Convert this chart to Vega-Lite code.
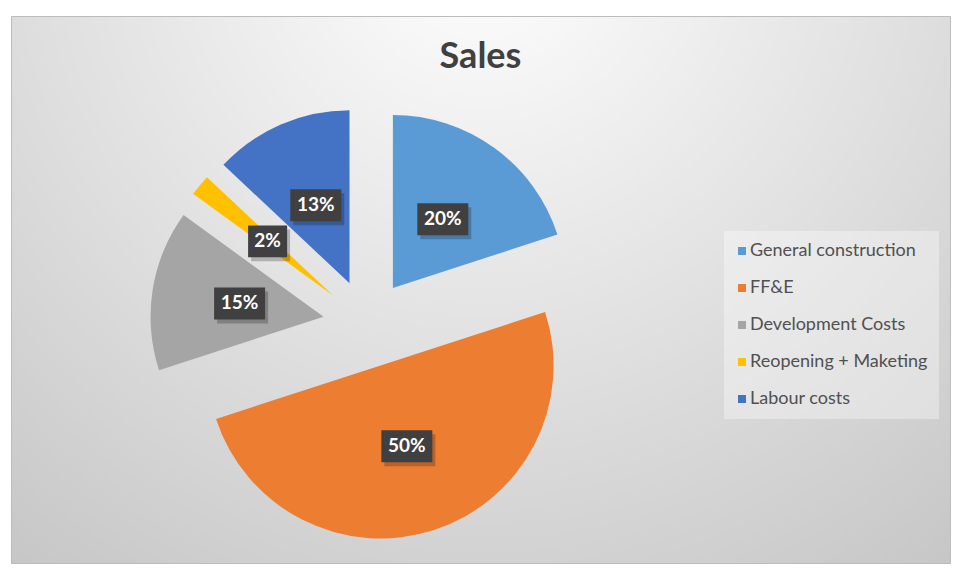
{
  "$schema": "https://vega.github.io/schema/vega-lite/v6.json",
  "width": 939,
  "height": 547,
  "autosize": {"type": "none"},
  "padding": {"left": 11, "top": 16, "right": 17, "bottom": 12},
  "background": "#ffffff",
  "title": {
    "text": "Sales",
    "font": "Lato",
    "fontSize": 36,
    "fontWeight": "bold",
    "color": "#404040",
    "anchor": "middle",
    "offset": -60
  },
  "data": {
    "values": [
      {"idx": 1, "category": "General construction", "value": 20},
      {"idx": 2, "category": "FF&E", "value": 50},
      {"idx": 3, "category": "Development Costs", "value": 15},
      {"idx": 4, "category": "Reopening + Maketing", "value": 2},
      {"idx": 5, "category": "Labour costs", "value": 13}
    ]
  },
  "transform": [
    {"window": [{"op": "sum", "field": "value", "as": "cum"}], "sort": [{"field": "idx"}], "frame": [null, 0]},
    {"joinaggregate": [{"op": "sum", "field": "value", "as": "total"}]},
    {"calculate": "datum.cum - datum.value", "as": "start"},
    {"calculate": "(datum.start + datum.value / 2) / datum.total * 2 * PI", "as": "mid"},
    {"calculate": "44 * sin(datum.mid)", "as": "ex"},
    {"calculate": "-44 * cos(datum.mid)", "as": "ey"},
    {"calculate": "129 * sin(datum.mid)", "as": "lx"},
    {"calculate": "-129 * cos(datum.mid)", "as": "ly"},
    {"calculate": "datum.value + '%'", "as": "label"}
  ],
  "layer": [
    {
      "mark": {"type": "arc", "outerRadius": 173},
      "encoding": {
        "x": {"field": "ex", "type": "quantitative", "scale": {"domain": [-356, 583], "nice": false, "zero": false}, "axis": null},
        "y": {"field": "ey", "type": "quantitative", "scale": {"domain": [-307.6, 239.4], "nice": false, "zero": false, "reverse": true}, "axis": null},
        "theta": {"field": "start", "type": "quantitative", "stack": null, "scale": {"domain": [0, 100], "range": [0, 6.283185307]}},
        "theta2": {"field": "cum"},
        "color": {
          "field": "category",
          "type": "nominal",
          "sort": ["General construction", "FF&E", "Development Costs", "Reopening + Maketing", "Labour costs"],
          "scale": {
            "domain": ["General construction", "FF&E", "Development Costs", "Reopening + Maketing", "Labour costs"],
            "range": ["#5B9BD5", "#ED7D31", "#A5A5A5", "#FFC000", "#4472C4"]
          },
          "legend": {
            "title": null,
            "orient": "none",
            "legendX": 713,
            "legendY": 215,
            "symbolType": "square",
            "symbolSize": 64,
            "symbolStrokeWidth": 0,
            "symbolOffset": -2,
            "labelFont": "Lato",
            "labelFontSize": 18,
            "labelColor": "#505050",
            "labelLimit": 300,
            "labelOffset": -1,
            "rowPadding": 19,
            "padding": 11,
            "fillColor": "rgba(255,255,255,0.35)"
          }
        },
        "order": {"field": "idx"}
      }
    },
    {
      "mark": {"type": "point", "filled": true, "color": "#000000", "opacity": 0.22, "xOffset": 3, "yOffset": 4, "strokeWidth": 0},
      "encoding": {
        "x": {"field": "lx", "type": "quantitative"},
        "y": {"field": "ly", "type": "quantitative"},
        "shape": {"condition": {"test": "datum.value < 10", "value": "M-1,-0.82H1V0.82H-1Z"}, "value": "M-1,-0.627H1V0.627H-1Z"},
        "size": {"condition": {"test": "datum.value < 10", "value": 1521}, "value": 2601}
      }
    },
    {
      "mark": {"type": "point", "filled": true, "color": "#404040", "opacity": 1, "strokeWidth": 0},
      "encoding": {
        "x": {"field": "lx", "type": "quantitative"},
        "y": {"field": "ly", "type": "quantitative"},
        "shape": {"condition": {"test": "datum.value < 10", "value": "M-1,-0.82H1V0.82H-1Z"}, "value": "M-1,-0.627H1V0.627H-1Z"},
        "size": {"condition": {"test": "datum.value < 10", "value": 1521}, "value": 2601}
      }
    },
    {
      "mark": {"type": "text", "font": "Lato", "fontSize": 19, "fontWeight": "bold", "color": "#ffffff", "align": "center", "baseline": "middle"},
      "encoding": {
        "x": {"field": "lx", "type": "quantitative"},
        "y": {"field": "ly", "type": "quantitative"},
        "text": {"field": "label"}
      }
    }
  ],
  "config": {
    "view": {
      "fill": {
        "gradient": "radial",
        "x1": 0.5, "y1": 0.12, "r1": 0,
        "x2": 0.5, "y2": 0.12, "r2": 0.9,
        "stops": [
          {"offset": 0, "color": "#ffffff"},
          {"offset": 1, "color": "#c2c2c2"}
        ]
      },
      "stroke": "#bcbcbc",
      "strokeWidth": 1
    }
  }
}
